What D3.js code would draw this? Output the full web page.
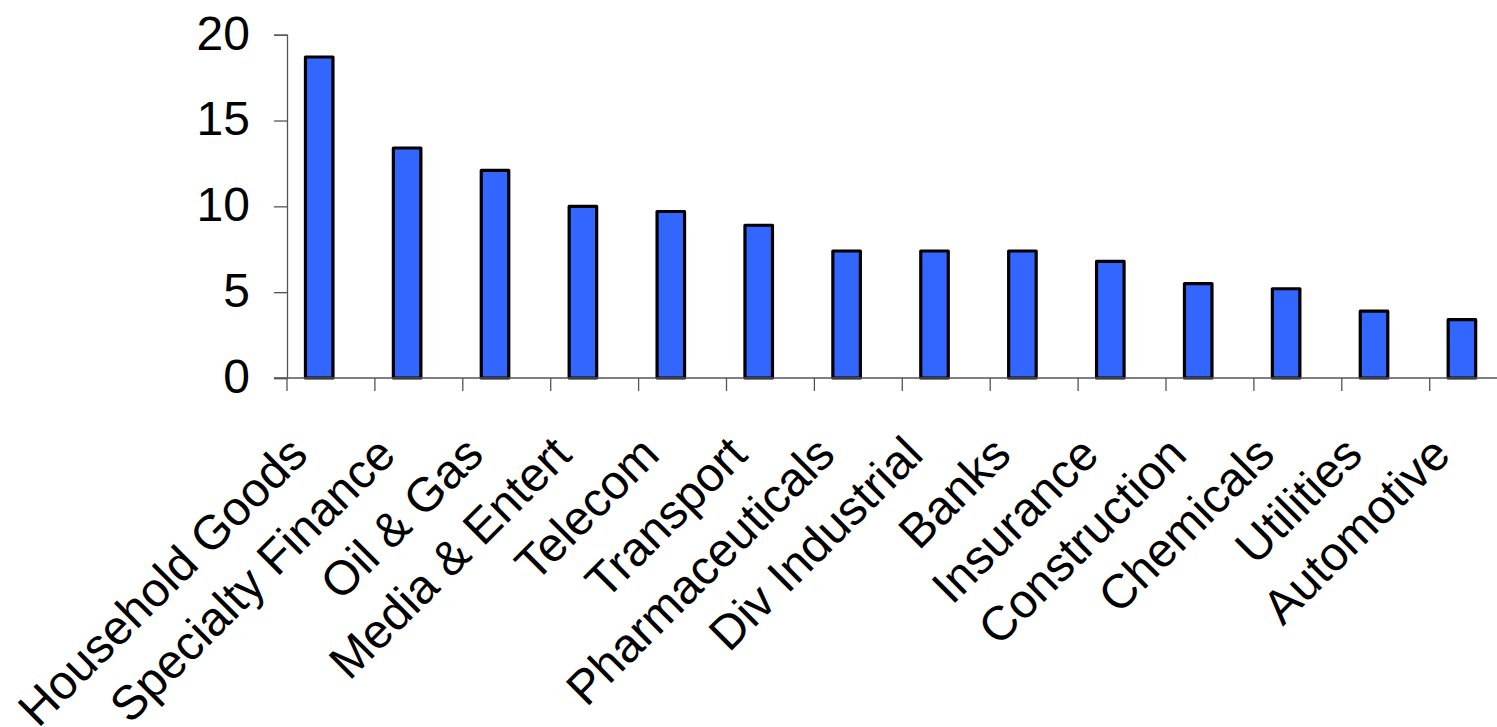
<!DOCTYPE html>
<html>
<head>
<meta charset="utf-8">
<script src="https://cdn.jsdelivr.net/npm/d3@7"></script>
<style>
  html, body { margin: 0; padding: 0; background: #ffffff; }
  svg { display: block; }
  text { font-family: "Liberation Sans", Arial, sans-serif; fill: #000; }
</style>
</head>
<body>
<svg id="chart" width="1497" height="727"></svg>
<script>
// Sectors and their values
const categories = [
  "Household Goods", "Specialty Finance", "Oil & Gas", "Media & Entert",
  "Telecom", "Transport", "Pharmaceuticals", "Div Industrial", "Banks",
  "Insurance", "Construction", "Chemicals", "Utilities", "Automotive"
];
const values = [18.7, 13.4, 12.1, 10.0, 9.7, 8.9, 7.4, 7.4, 7.4, 6.8, 5.5, 5.2, 3.9, 3.4];
const yTicks = [0, 5, 10, 15, 20];

const svg = d3.select("#chart");

// Plot frame
const plotLeft = 287, plotTop = 34.7, plotBottom = 378, step = 87.9;
const plotRight = plotLeft + step * categories.length;

const x = d3.scaleBand().domain(categories).range([plotLeft, plotRight]).padding(0);
const y = d3.scaleLinear().domain([0, 20]).range([plotBottom, plotTop]);

const axisColor = "#555";

// Bars (sit left of the category centre, as in a clustered layout)
svg.append("g")
  .selectAll("rect")
  .data(categories)
  .join("rect")
  .attr("x", d => x(d) + x.bandwidth() * 0.21)
  .attr("width", x.bandwidth() * 0.313)
  .attr("y", (d, i) => y(values[i]))
  .attr("height", (d, i) => y(0) - y(values[i]))
  .attr("fill", "#3366ff")
  .attr("stroke", "#000")
  .attr("stroke-width", 3.2)
  .attr("stroke-linejoin", "round");

// Y axis
const yAxis = svg.append("g")
  .attr("transform", `translate(${plotLeft},0)`)
  .call(d3.axisLeft(y).tickValues(yTicks).tickSize(13).tickPadding(24).tickFormat(d3.format("d")));
yAxis.select(".domain").attr("stroke", axisColor).attr("stroke-width", 1.3);
yAxis.selectAll(".tick line").attr("stroke", axisColor).attr("stroke-width", 1.3);
yAxis.selectAll(".tick text")
  .attr("font-size", 48)
  .attr("dy", "0.30em");

// X axis: ticks fall between categories
const xAxisG = svg.append("g");
xAxisG.append("line")
  .attr("x1", plotLeft - 13).attr("x2", plotRight)
  .attr("y1", plotBottom).attr("y2", plotBottom)
  .attr("stroke", axisColor).attr("stroke-width", 1.3);
xAxisG.selectAll("line.tick")
  .data(categories.concat([null]))
  .join("line")
  .attr("class", "tick")
  .attr("x1", (d, i) => plotLeft + i * x.step())
  .attr("x2", (d, i) => plotLeft + i * x.step())
  .attr("y1", plotBottom).attr("y2", plotBottom + 13)
  .attr("stroke", axisColor).attr("stroke-width", 1.3);

// Rotated category labels
xAxisG.selectAll("text")
  .data(categories)
  .join("text")
  .attr("transform", d => `translate(${x(d) + x.bandwidth() / 2 - 21},${plotBottom + 79}) rotate(-45)`)
  .attr("text-anchor", "end")
  .attr("font-size", 48)
  .text(d => d);
</script>
</body>
</html>
